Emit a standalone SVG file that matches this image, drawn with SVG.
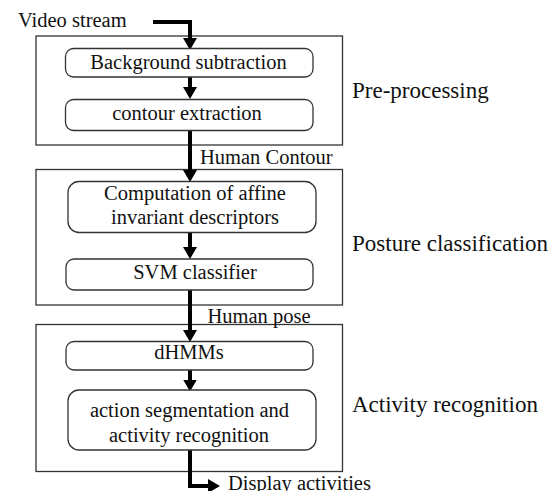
<svg xmlns="http://www.w3.org/2000/svg" width="555" height="491" viewBox="0 0 555 491">
<style>
text{font-family:'Liberation Serif','Times New Roman','DejaVu Serif',serif;fill:#111}
.t{font-size:20.5px;text-anchor:middle}
.l{font-size:23px}
.stage{fill:none;stroke:#333;stroke-width:1.3}
.box{fill:#fff;stroke:#333;stroke-width:1.3}
.c{fill:none;stroke:#000;stroke-width:4;stroke-linejoin:miter}
</style>
<defs>
<marker id="ah" viewBox="0 0 12 14" refX="4" refY="7" markerWidth="12" markerHeight="14" markerUnits="userSpaceOnUse" orient="auto">
<path d="M0,0 L12,7 L0,14 z" fill="#000"/>
</marker>
</defs>
<g font-family="Liberation Serif, Times New Roman, DejaVu Serif, serif">
<g id="stage-preprocessing">
<rect class="stage" x="36" y="36" width="306.5" height="109"/>
<text class="l" x="352" y="98">Pre-processing</text>
</g>
<g id="stage-posture">
<rect class="stage" x="36" y="169.5" width="306.5" height="135.5"/>
<text class="l" x="352" y="251">Posture classification</text>
</g>
<g id="stage-activity">
<rect class="stage" x="36" y="324.5" width="306.5" height="147"/>
<text class="l" x="352" y="412">Activity recognition</text>
</g>
<g id="connectors">
<polyline class="c" points="153,22 190,22 190,42" marker-end="url(#ah)"/>
<polyline class="c" points="190,77 190,91" marker-end="url(#ah)"/>
<polyline class="c" points="190,130.5 190,174" marker-end="url(#ah)"/>
<polyline class="c" points="190,232.5 190,251" marker-end="url(#ah)"/>
<polyline class="c" points="190,290 190,334" marker-end="url(#ah)"/>
<polyline class="c" points="190,370 190,383.5" marker-end="url(#ah)"/>
<polyline class="c" points="190,450 190,486 212,486" marker-end="url(#ah)"/>
</g>
<g id="label-video"><text x="18" y="27" font-size="20.5px">Video stream</text></g>
<g id="label-contour"><text x="200" y="164" font-size="20.5px">Human Contour</text></g>
<g id="label-pose"><text x="207.5" y="322.5" font-size="20.5px">Human pose</text></g>
<g id="label-display"><text x="228" y="490" font-size="20.5px">Display activities</text></g>
<g id="node-background">
<rect class="box" x="65.5" y="48.5" width="247.5" height="28.5" rx="8"/>
<text class="t" x="188.5" y="68.5">Background subtraction</text>
</g>
<g id="node-contour">
<rect class="box" x="65.5" y="99.5" width="247.5" height="31" rx="8"/>
<text class="t" x="187" y="120">contour extraction</text>
</g>
<g id="node-affine">
<rect class="box" x="68" y="181.5" width="248" height="51" rx="11"/>
<text class="t" x="195" y="199.5">Computation of affine</text>
<text class="t" x="195" y="224">invariant descriptors</text>
</g>
<g id="node-svm">
<rect class="box" x="66" y="259" width="247" height="31" rx="8"/>
<text class="t" x="195" y="279">SVM classifier</text>
</g>
<g id="node-dhmm">
<rect class="box" x="66" y="341.5" width="247" height="28.5" rx="8"/>
<text class="t" x="189" y="358.5">dHMMs</text>
</g>
<g id="node-action">
<rect class="box" x="68" y="390" width="248" height="60" rx="11"/>
<text class="t" x="189.5" y="417">action segmentation and</text>
<text class="t" x="189" y="442">activity recognition</text>
</g>
</g>
</svg>
